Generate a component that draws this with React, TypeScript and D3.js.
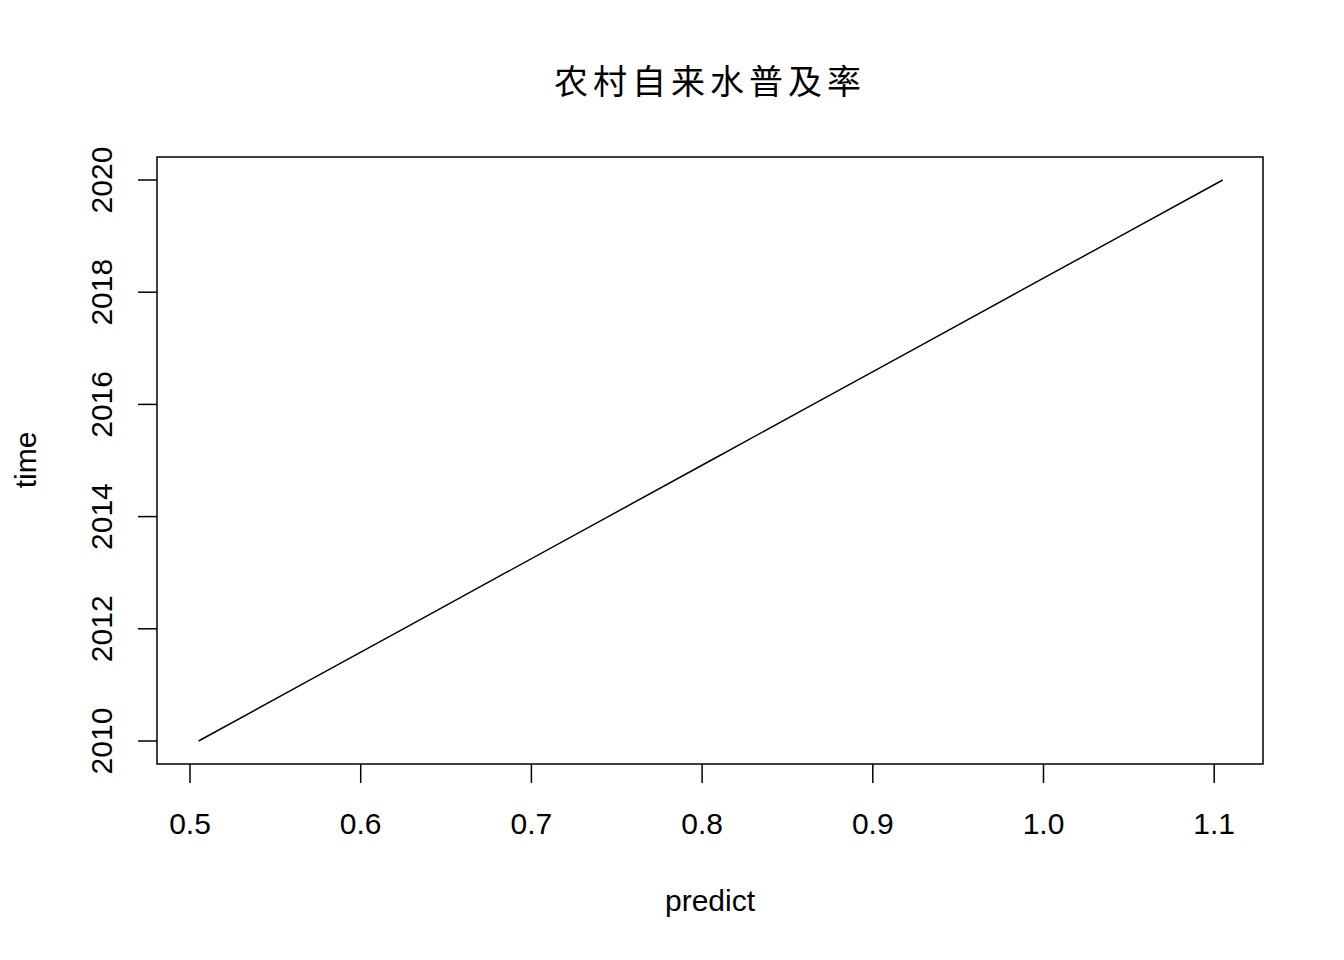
import React from "react";
import * as d3 from "d3";

const years = [2010, 2011, 2012, 2013, 2014, 2015, 2016, 2017, 2018, 2019, 2020];
const predict = [0.505, 0.565, 0.625, 0.685, 0.745, 0.805, 0.865, 0.925, 0.985, 1.045, 1.105];
const xTicks = [0.5, 0.6, 0.7, 0.8, 0.9, 1.0, 1.1];
const yTicks = [2010, 2012, 2014, 2016, 2018, 2020];

export default function App() {
  const W = 1344, H = 960;
  const box = { l: 157, r: 1263, t: 157, b: 764 };
  const x = d3.scaleLinear().domain([0.5, 1.1]).range([190, 1214.2]);
  const y = d3.scaleLinear().domain([2010, 2020]).range([741, 180]);
  const line = d3.line<number>().x((_, i) => x(predict[i])).y((d) => y(d));
  const font = "'Liberation Sans', Arial, sans-serif";
  return (
    <svg width={W} height={H} style={{ position: "absolute", left: 0, top: 0, background: "#fff" }} fontFamily={font}>
      <text x={710} y={94} textAnchor="middle" fontSize={34} letterSpacing={5} fontFamily="'Noto Sans CJK SC', sans-serif">农村自来水普及率</text>
      <rect x={box.l} y={box.t} width={box.r - box.l} height={box.b - box.t} fill="none" stroke="#000" strokeWidth={1.5} />
      <path d={line(years) || ""} fill="none" stroke="#000" strokeWidth={1.5} />
      {xTicks.map((t) => (
        <g key={t}>
          <line x1={x(t)} x2={x(t)} y1={box.b} y2={box.b + 19} stroke="#000" strokeWidth={1.5} />
          <text x={x(t)} y={834} textAnchor="middle" fontSize={30}>{t.toFixed(1)}</text>
        </g>
      ))}
      {yTicks.map((t) => (
        <g key={t}>
          <line x1={box.l - 19} x2={box.l} y1={y(t)} y2={y(t)} stroke="#000" strokeWidth={1.5} />
          <text transform={`translate(112,${y(t)}) rotate(-90)`} textAnchor="middle" fontSize={30}>{t}</text>
        </g>
      ))}
      <text x={710} y={911} textAnchor="middle" fontSize={30}>predict</text>
      <text transform={`translate(36,460) rotate(-90)`} textAnchor="middle" fontSize={30}>time</text>
    </svg>
  );
}
